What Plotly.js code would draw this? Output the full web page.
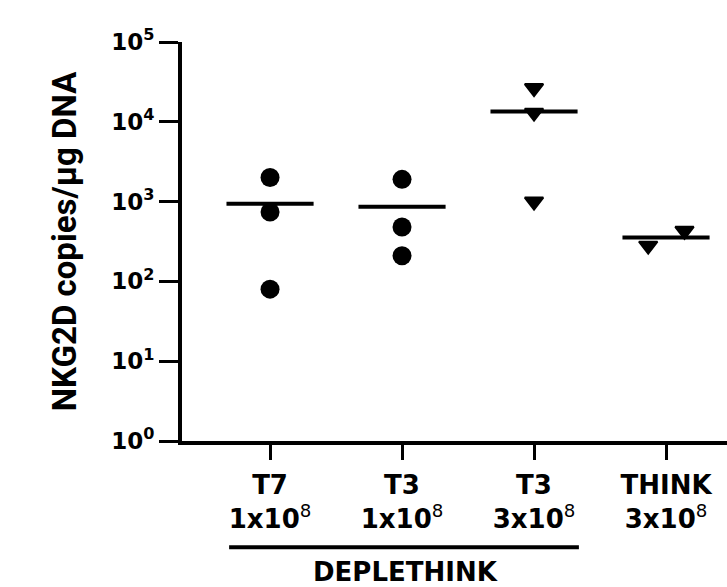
<!DOCTYPE html>
<html><head><meta charset="utf-8">
<script src="https://cdn.plot.ly/plotly-3.0.1.min.js"></script>
<style>html,body{margin:0;padding:0;background:#fff}</style>
</head><body><div id="chart" style="width:727px;height:587px"></div>
<script>
// ---- data ----
const groupNames = ['T7', 'T3', 'T3', 'THINK'];
const groupDoses = ['1x10', '1x10', '3x10', '3x10'];
const doseExponent = '8';
const t7_1e8 = [2000, 740, 80];
const t3_1e8 = [1900, 480, 210];
const t3_3e8 = [26500, 13000, 1000];
const think_3e8 = [280, 430];
const think_jitter = [-0.135, 0.14];
const yTickVals = [1, 10, 100, 1000, 10000, 100000];
const yTickExp = ['0', '1', '2', '3', '4', '5'];
const bracketLabel = 'DEPLETHINK';
const bracketGroups = [0, 1, 2];
const yTitle = 'NKG2D copies/μg DNA';

const groups = [
  {vals: t7_1e8, jit: [0, 0, 0], sym: 'circle'},
  {vals: t3_1e8, jit: [0, 0, 0], sym: 'circle'},
  {vals: t3_3e8, jit: [0, 0, 0], sym: 'triangle-down'},
  {vals: think_3e8, jit: think_jitter, sym: 'triangle-down'}
];

const traces = [];
groups.forEach((g, i) => {
  const tri = g.sym === 'triangle-down';
  traces.push({
    type: 'scatter', mode: 'markers', cliponaxis: false, showlegend: false,
    x: g.vals.map((v, j) => i + g.jit[j]), y: g.vals,
    marker: {symbol: g.sym, color: '#000', size: tri ? 16 : 19,
             line: {color: '#000', width: tri ? 2 : 0}}
  });
  const mean = g.vals.reduce((a, b) => a + b, 0) / g.vals.length;
  traces.push({
    type: 'scatter', mode: 'lines', cliponaxis: false, showlegend: false,
    x: [i - 0.33, i + 0.33], y: [mean, mean],
    line: {color: '#000', width: 4}
  });
});

const tickFam = '"DejaVu Sans", sans-serif';
const xTickText = groupNames.map((n, i) =>
  n + '<br>' + groupDoses[i] + '<sup><span style="font-weight:400">' + doseExponent + '</span></sup>');
const yTickText = yTickExp.map(e => '10<sup>' + e + '</sup>');

const layout = {
  width: 727, height: 587,
  margin: {l: 182, r: 0, t: 42, b: 146},
  paper_bgcolor: '#fff', plot_bgcolor: '#fff',
  showlegend: false,
  xaxis: {
    range: [-0.667, 3.462], tickmode: 'array', tickvals: groupNames.map((_, i) => i), ticktext: xTickText,
    showline: true, linewidth: 4, linecolor: '#000', ticks: 'outside', ticklen: 15, tickwidth: 3, tickcolor: '#000',
    showgrid: false, zeroline: false, ticklabelstandoff: 3,
    tickfont: {family: tickFam, size: 26, weight: 700, color: '#000'}
  },
  yaxis: {
    type: 'log', range: [0, 5], tickmode: 'array', tickvals: yTickVals, ticktext: yTickText,
    showline: true, linewidth: 4, linecolor: '#000', ticks: 'outside', ticklen: 19, tickwidth: 3, tickcolor: '#000',
    showgrid: false, zeroline: false,
    tickfont: {family: tickFam, size: 23, weight: 700, color: '#000'},
    title: {text: yTitle, standoff: 26, font: {family: 'Roboto, sans-serif', size: 33, weight: 700, color: '#000'}}
  },
  shapes: [{
    type: 'line', xref: 'x', yref: 'paper',
    x0: bracketGroups[0] - 0.31, x1: bracketGroups[bracketGroups.length - 1] + 0.34,
    y0: -0.266, y1: -0.266, line: {color: '#000', width: 4}
  }],
  annotations: [{
    text: bracketLabel, xref: 'x', yref: 'paper',
    x: (bracketGroups[0] + bracketGroups[bracketGroups.length - 1]) / 2 + 0.03, y: -0.328,
    xanchor: 'center', yanchor: 'middle', showarrow: false,
    font: {family: tickFam, size: 26, weight: 700, color: '#000'}
  }]
};

Plotly.newPlot('chart', traces, layout, {displayModeBar: false, staticPlot: true});
</script></body></html>
